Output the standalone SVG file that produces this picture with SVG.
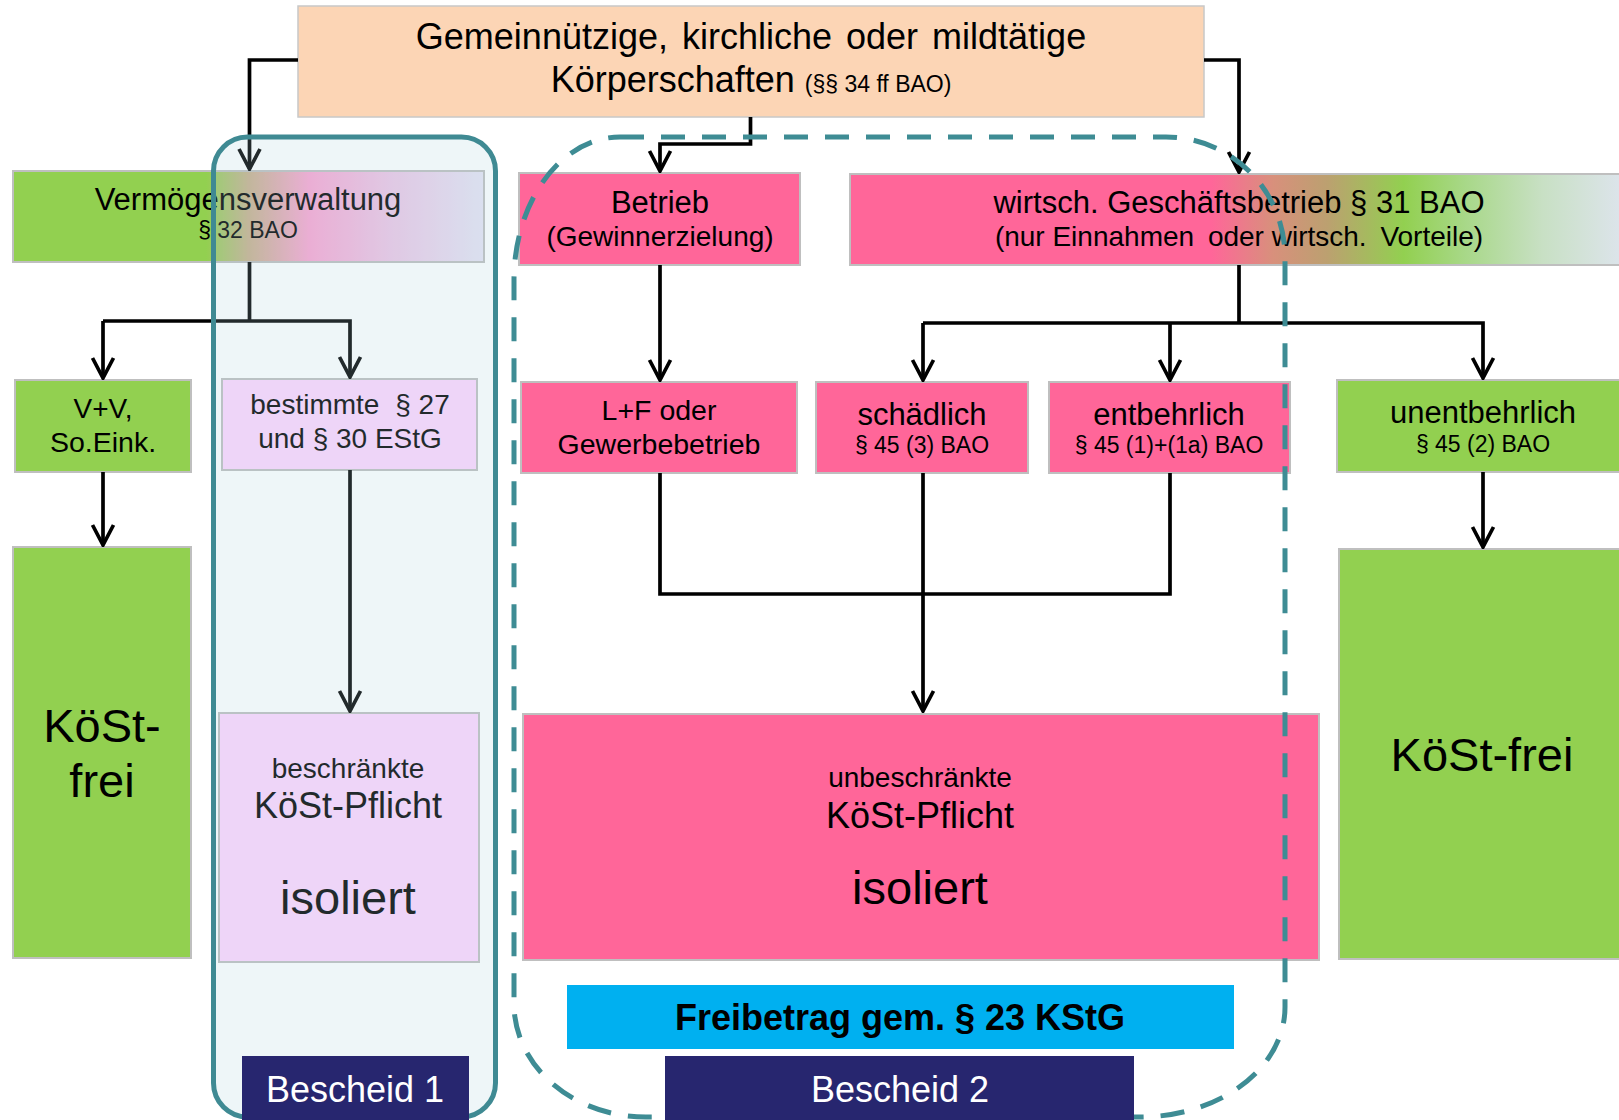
<svg xmlns="http://www.w3.org/2000/svg" width="1619" height="1120" viewBox="0 0 1619 1120">
<style>
text{font-family:"Liberation Sans",Arial,sans-serif;fill:#000;text-anchor:middle}
.box{stroke:#BFBFBF;stroke-width:2}
.pink{fill:#FF6699}
.green{fill:#92D050}
.lav{fill:#FFD6FF}
.con{fill:none;stroke:#000;stroke-width:3.7;stroke-linejoin:miter}
.arr{marker-end:url(#ah)}
.navy{fill:#27266F}
.w{fill:#fff}
</style>
<defs>
<marker id="ah" markerUnits="userSpaceOnUse" viewBox="-24 -13 26 26" refX="0" refY="0" markerWidth="26" markerHeight="26" orient="auto">
<path d="M-20,-10.5 L0,0 L-20,10.5" fill="none" stroke="#000" stroke-width="3.7"/>
</marker>
<linearGradient id="gVerm" x1="13" y1="0" x2="484" y2="0" gradientUnits="userSpaceOnUse">
<stop offset="0" stop-color="#92D050"/>
<stop offset="0.41" stop-color="#92D050"/>
<stop offset="0.5" stop-color="#C8B08C"/>
<stop offset="0.63" stop-color="#FBA6D3"/>
<stop offset="0.8" stop-color="#EEC6E6"/>
<stop offset="1" stop-color="#E6E4F4"/>
</linearGradient>
<linearGradient id="gWirt" x1="850" y1="0" x2="1619" y2="0" gradientUnits="userSpaceOnUse">
<stop offset="0" stop-color="#FF6699"/>
<stop offset="0.47" stop-color="#FF6699"/>
<stop offset="0.55" stop-color="#D8907C"/>
<stop offset="0.62" stop-color="#BCA070"/>
<stop offset="0.72" stop-color="#92D050"/>
<stop offset="0.8" stop-color="#A8D888"/>
<stop offset="0.9" stop-color="#C8E0C4"/>
<stop offset="1" stop-color="#DCE4EA"/>
</linearGradient>
</defs>

<g id="top">
<rect x="298" y="6" width="906" height="111" fill="#FCD5B5" stroke="#C8C8C8" stroke-width="1.5"/>
<text x="751" y="49" font-size="36" word-spacing="4">Gemeinnützige, kirchliche oder mildtätige</text>
<text x="751" y="92" font-size="36">Körperschaften <tspan font-size="23">(§§ 34 ff BAO)</tspan></text>
</g>

<g id="vermoegen">
<rect class="box" x="13" y="171" width="471" height="91" fill="url(#gVerm)"/>
<text x="248" y="210" font-size="31">Vermögensverwaltung</text>
<text x="248" y="238" font-size="23">§ 32 BAO</text>
</g>

<g id="betrieb">
<rect class="box pink" x="519" y="173" width="281" height="92"/>
<text x="660" y="213" font-size="31">Betrieb</text>
<text x="660" y="246" font-size="28">(Gewinnerzielung)</text>
</g>

<g id="wirtsch">
<rect class="box" x="850" y="174" width="775" height="91" fill="url(#gWirt)"/>
<text x="1239" y="213" font-size="31">wirtsch. Geschäftsbetrieb § 31 BAO</text>
<text x="1239" y="246" font-size="28">(nur Einnahmen <tspan dx="6">oder wirtsch.</tspan> <tspan dx="6">Vorteile)</tspan></text>
</g>

<g id="vv">
<rect class="box green" x="15" y="380" width="176" height="92"/>
<text x="103" y="418" font-size="28">V+V,</text>
<text x="103" y="452" font-size="28.5">So.Eink.</text>
</g>

<g id="bestimmte">
<rect class="box lav" x="222" y="379" width="255" height="91"/>
<text x="350" y="414" font-size="28">bestimmte <tspan dx="8">§ 27</tspan></text>
<text x="350" y="448" font-size="28">und § 30 EStG</text>
</g>

<g id="lf">
<rect class="box pink" x="521" y="382" width="276" height="91"/>
<text x="659" y="420" font-size="28.5">L+F oder</text>
<text x="659" y="454" font-size="28.5">Gewerbebetrieb</text>
</g>

<g id="schaedlich">
<rect class="box pink" x="816" y="382" width="212" height="91"/>
<text x="922" y="425" font-size="31">schädlich</text>
<text x="922" y="453" font-size="23">§ 45 (3) BAO</text>
</g>

<g id="entbehrlich">
<rect class="box pink" x="1049" y="382" width="241" height="91"/>
<text x="1169" y="425" font-size="31">entbehrlich</text>
<text x="1169" y="453" font-size="23">§ 45 (1)+(1a) BAO</text>
</g>

<g id="unentbehrlich">
<rect class="box green" x="1337" y="380" width="290" height="92"/>
<text x="1483" y="423" font-size="31">unentbehrlich</text>
<text x="1483" y="452" font-size="23">§ 45 (2) BAO</text>
</g>

<g id="koest-frei-links">
<rect class="box green" x="13" y="547" width="178" height="411"/>
<text x="102" y="742" font-size="47">KöSt-</text>
<text x="102" y="797" font-size="47">frei</text>
</g>

<g id="beschraenkt">
<rect class="box lav" x="219" y="713" width="260" height="249"/>
<text x="348" y="778" font-size="28">beschränkte</text>
<text x="348" y="818" font-size="36">KöSt-Pflicht</text>
<text x="348" y="914" font-size="47">isoliert</text>
</g>

<g id="unbeschraenkt">
<rect class="box pink" x="523" y="714" width="796" height="246"/>
<text x="920" y="787" font-size="28">unbeschränkte</text>
<text x="920" y="828" font-size="36">KöSt-Pflicht</text>
<text x="920" y="904" font-size="47">isoliert</text>
</g>

<g id="koest-frei-rechts">
<rect class="box green" x="1339" y="549" width="290" height="410"/>
<text x="1482" y="771" font-size="47">KöSt-frei</text>
</g>

<g id="freibetrag">
<rect x="567" y="985" width="667" height="64" fill="#00B0F0"/>
<text x="900" y="1030" font-size="36" font-weight="bold">Freibetrag gem. § 23 KStG</text>
</g>

<g id="connectors">
<path class="con arr" d="M298,60 H249.5 V169"/>
<path class="con arr" d="M750.5,117 V144 H660 V171"/>
<path class="con arr" d="M1204,60 H1239 V172"/>
<path class="con" d="M249.5,262 V321"/>
<path class="con arr" d="M103,321 H350 V377"/>
<path class="con arr" d="M103,321 V378"/>
<path class="con arr" d="M660,265 V380"/>
<path class="con" d="M1239,265 V323"/>
<path class="con arr" d="M923,323 H1483 V378"/>
<path class="con arr" d="M923,323 V380"/>
<path class="con arr" d="M1170,323 V380"/>
<path class="con arr" d="M103,472 V545"/>
<path class="con arr" d="M350,470 V711"/>
<path class="con arr" d="M1483,472 V547"/>
<path class="con" d="M660,473 V594 H1170 V473"/>
<path class="con arr" d="M923,473 V711"/>
</g>

<g id="bescheid1-bereich">
<rect x="213.5" y="137" width="282" height="980" rx="34" fill="#AAD2DC" fill-opacity="0.2" stroke="#3F8A93" stroke-width="5"/>
</g>

<g id="bescheid2-bereich">
<path d="M620,137 H1166 A119,120 0 0 1 1285,257 V1007 A145,110 0 0 1 1140,1117 H646 A132,113 0 0 1 514,1004 V280 A106,143 0 0 1 620,137 Z" fill="none" stroke="#3E8C94" stroke-width="5" stroke-dasharray="24 17"/>
</g>

<g id="bescheid1">
<rect class="navy" x="242" y="1056" width="227" height="70"/>
<text class="w" x="355" y="1102" font-size="36">Bescheid 1</text>
</g>

<g id="bescheid2">
<rect class="navy" x="665" y="1056" width="469" height="70"/>
<text class="w" x="900" y="1102" font-size="36">Bescheid 2</text>
</g>
</svg>
